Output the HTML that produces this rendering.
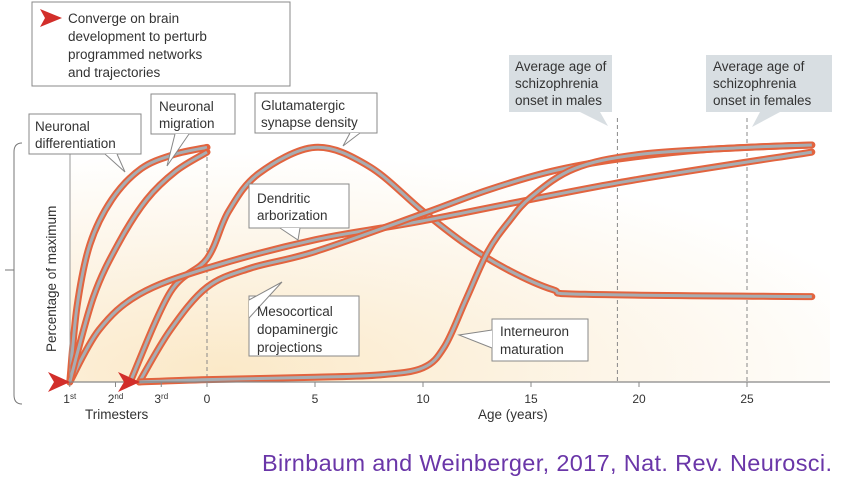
<!DOCTYPE html>
<html><head><meta charset="utf-8"><style>
body{margin:0;background:#fff;width:844px;height:482px;overflow:hidden;font-family:"Liberation Sans",sans-serif}
svg{position:absolute;left:0;top:0}
</style></head><body>
<svg width="844" height="482" viewBox="0 0 844 482">
<defs>
<radialGradient id="bg" cx="0.2" cy="0.95" r="0.9">
<stop offset="0" stop-color="#fbe9c8"/><stop offset="0.6" stop-color="#fdf6ea"/><stop offset="1" stop-color="#ffffff"/>
</radialGradient>
</defs>
<rect x="70" y="140" width="760" height="242" fill="url(#bg)"/>
<g id="guides"></g>
<g id="curves"></g>
<g id="axes"></g>
</svg>
<script>
const NS="http://www.w3.org/2000/svg";
// ages in years (prenatal negative: 1st trimester = -0.75)
const diffAges=[-0.75,-0.71,-0.64,-0.52,-0.36,-0.18,0];
const diffVals=[0,32,58,77,90,96,99];
const migAges=[-0.75,-0.62,-0.48,-0.33,-0.17,0];
const migVals=[0,36,59,77,89,97];
const synAges=[-0.42,-0.2,0,1,2.4,5,7.5,10,12,14,16,17.5,28];
const synVals=[0,38,52,72,88,99,91,72,58,47,39,37,36];
const dendAges=[-0.75,-0.59,-0.37,0,5,10,19,28];
const dendVals=[0,22,37,48,60,68,84,97];
const mesoAges=[-0.37,-0.2,0,2,5,10,13,16,19,23,28];
const mesoVals=[0,22,40,48,55,71,81,89,94,98,100];
const interAges=[-0.37,0,5,8,10,11,12,13,14,15,17,20,25,28];
const interVals=[0,1,2,3,6,15,35,55,68,78,90,96,99,100];
const xTicks=[0,5,10,15,20,25];
const triTicks=["1st","2nd","3rd"];

function xs(a){return a<0?207+a*183:207+a*21.6;}
function ys(v){return 382-v*2.37;}
function el(tag,attrs,parent){const e=document.createElementNS(NS,tag);for(const k in attrs)e.setAttribute(k,attrs[k]);parent.appendChild(e);return e;}
function pathD(ages,vals){
  const p=ages.map((a,i)=>[xs(a),ys(vals[i])]);
  let d="M"+p[0][0]+","+p[0][1];
  for(let i=0;i<p.length-1;i++){
    const p0=p[i-1]||p[i],p1=p[i],p2=p[i+1],p3=p[i+2]||p2;
    const c1=[p1[0]+(p2[0]-p0[0])/6,p1[1]+(p2[1]-p0[1])/6];
    const c2=[p2[0]-(p3[0]-p1[0])/6,p2[1]-(p3[1]-p1[1])/6];
    d+=` C${c1[0]},${c1[1]} ${c2[0]},${c2[1]} ${p2[0]},${p2[1]}`;
  }
  return d;
}
const curves=document.getElementById('curves');
function curve(name,ages,vals){
  const g=el('g',{},curves);
  
  
  const d=pathD(ages,vals);
  el('path',{d:d,fill:'none',stroke:'#e2643f','stroke-width':7,'stroke-linecap':'round'},g);
  el('path',{d:d,fill:'none',stroke:'#a7adb2','stroke-width':3}, g);
}
curve('synapse-density-curve',synAges,synVals);
curve('dendritic-arborization-curve',dendAges,dendVals);
curve('mesocortical-curve',mesoAges,mesoVals);
curve('interneuron-curve',interAges,interVals);
curve('neuronal-differentiation-curve',diffAges,diffVals);
curve('neuronal-migration-curve',migAges,migVals);

const guides=document.getElementById('guides');
[[0,150],[19,118],[25,118]].forEach(([a,top])=>{
  const l=el('line',{x1:xs(a),x2:xs(a),y1:top,y2:382,stroke:'#888','stroke-dasharray':'4,3','stroke-width':1},guides);
  
  
});

const axes=document.getElementById('axes');
el('line',{x1:70,x2:830,y1:382,y2:382,stroke:'#888','stroke-width':1.2},axes);
el('line',{x1:70,x2:70,y1:140,y2:382,stroke:'#999','stroke-width':1},axes);
xTicks.forEach(t=>{
  el('line',{x1:xs(t),x2:xs(t),y1:382,y2:387,stroke:'#888'},axes);
  const tx=el('text',{x:xs(t),y:403,'text-anchor':'middle','font-size':12,fill:'#333','font-family':'Liberation Sans,sans-serif'},axes);
  tx.textContent=t;
  
  
});
triTicks.forEach((t,i)=>{
  const x=xs(-0.75+i*0.25);
  el('line',{x1:x,x2:x,y1:382,y2:387,stroke:'#888'},axes);
  const tx=el('text',{x:x,y:403,'text-anchor':'middle','font-size':12,fill:'#333','font-family':'Liberation Sans,sans-serif'},axes);
  tx.innerHTML=t.slice(0,1)+'<tspan font-size="8" dy="-4">'+t.slice(1)+'</tspan>';
  
  
});
[[48,70],[118,140]].forEach(([a,b])=>{
  const p=el('path',{d:`M${a},372 L${b},382 L${a},392 L${a+6},382 Z`,fill:'#d22e2a'},axes);
  
  
});
el('path',{d:'M22,143 Q14,143 14,152 L14,395 Q14,404 22,404',fill:'none',stroke:'#777'},axes);
el('line',{x1:5,x2:14,y1:270,y2:270,stroke:'#777'},axes);
</script>
<svg width="844" height="482" style="pointer-events:none">
<g font-size="13.5" fill="#333" font-family="Liberation Sans,sans-serif">
<text transform="translate(56,352) rotate(-90)" font-size="13.5">Percentage of maximum</text>
<text x="85" y="419">Trimesters</text>
<text x="478" y="419">Age (years)</text>

<g>
<rect x="32" y="2" width="258" height="84" fill="#fff" stroke="#888"/>
<path d="M40,9 L62,18 L40,27 L45,18 Z" fill="#d22e2a"/>
<text x="68" y="23">Converge on brain</text><text x="68" y="41">development to perturb</text><text x="68" y="59">programmed networks</text><text x="68" y="77">and trajectories</text>
</g>
<g>
<rect x="29" y="114" width="112" height="40" fill="#fff" stroke="#888"/>
<path d="M105,154 L125,172 L117,154" fill="#fff" stroke="#888"/>
<text x="35" y="131">Neuronal</text><text x="35" y="148">differentiation</text>
</g>
<g>
<rect x="151" y="94" width="84" height="40" fill="#fff" stroke="#888"/>
<path d="M175,134 L167,166 L189,134" fill="#fff" stroke="#888"/>
<text x="159" y="111">Neuronal</text><text x="159" y="128">migration</text>
</g>
<g>
<rect x="255" y="93" width="122" height="40" fill="#fff" stroke="#888"/>
<path d="M350,133 L343,146 L360,133" fill="#fff" stroke="#888"/>
<text x="261" y="110">Glutamatergic</text><text x="261" y="127">synapse density</text>
</g>
<g>
<rect x="249" y="184" width="100" height="44" fill="#fff" stroke="#888"/>
<path d="M280,228 L298,240 L300,228" fill="#fff" stroke="#888"/>
<text x="257" y="203">Dendritic</text><text x="257" y="220">arborization</text>
</g>
<g>
<rect x="249" y="296" width="110" height="60" fill="#fff" stroke="#888"/>
<path d="M249,300 L282,282 L249,318" fill="#fff" stroke="#888"/>
<text x="257" y="316">Mesocortical</text><text x="257" y="334">dopaminergic</text><text x="257" y="352">projections</text>
</g>
<g>
<rect x="492" y="319" width="96" height="42" fill="#fff" stroke="#888"/>
<path d="M492,330 L459,335 L492,348" fill="#fff" stroke="#888"/>
<text x="500" y="336">Interneuron</text><text x="500" y="354">maturation</text>
</g>
<g>
<rect x="509" y="55" width="103" height="57" fill="#d8dee2"/>
<path d="M580,112 L608,126 L600,112 Z" fill="#d8dee2"/>
<text x="515" y="71">Average age of</text><text x="515" y="88">schizophrenia</text><text x="515" y="105">onset in males</text>
</g>
<g>
<rect x="706" y="55" width="126" height="57" fill="#d8dee2"/>
<path d="M760,112 L752,127 L780,112 Z" fill="#d8dee2"/>
<text x="713" y="71">Average age of</text><text x="713" y="88">schizophrenia</text><text x="713" y="105">onset in females</text>
</g>
<text x="262" y="471" font-size="23.5" fill="#6a36a8" textLength="570">Birnbaum and Weinberger, 2017, Nat. Rev. Neurosci.</text>
</g>
</svg>
</body></html>
